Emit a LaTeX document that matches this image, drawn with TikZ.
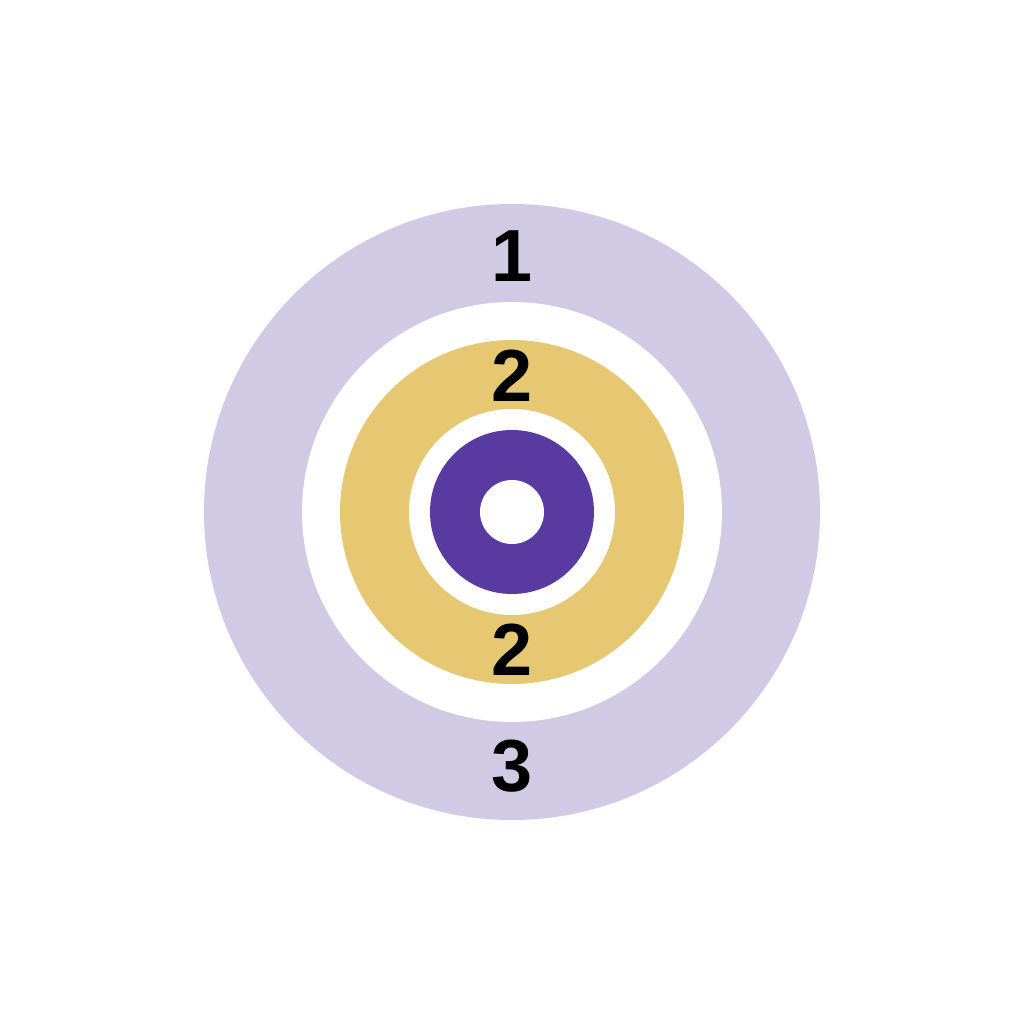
\documentclass[tikz,border=0pt]{standalone}
\usepackage{fontspec}
\usepackage{tikz}
\usepackage{xcolor}
\setmainfont{Liberation Sans}

\definecolor{ringlilac}{RGB}{209,202,228}
\definecolor{ringgold}{RGB}{230,200,115}
\definecolor{ringviolet}{RGB}{88,58,160}

\begin{document}
\begin{tikzpicture}[x=0.01cm,y=0.01cm,
  ring label/.style={font=\fontsize{21}{25}\selectfont\bfseries,text=black,inner sep=0pt}]
  \useasboundingbox (-512,-512) rectangle (512,512);

  \fill[ringlilac] (0,0) circle (308);
  \fill[white] (0,0) circle (210);
  \fill[ringgold] (0,0) circle (172);
  \fill[white] (0,0) circle (103);
  \fill[ringviolet] (0,0) circle (82);
  \fill[white] (0,0) circle (32);

  \node[ring label] (one) at (0,256) {1};
  \node[ring label] (twoup) at (0,136) {2};
  \node[ring label] (twodown) at (0,-138) {2};
  \node[ring label] (three) at (0,-254) {3};
\end{tikzpicture}
\end{document}
